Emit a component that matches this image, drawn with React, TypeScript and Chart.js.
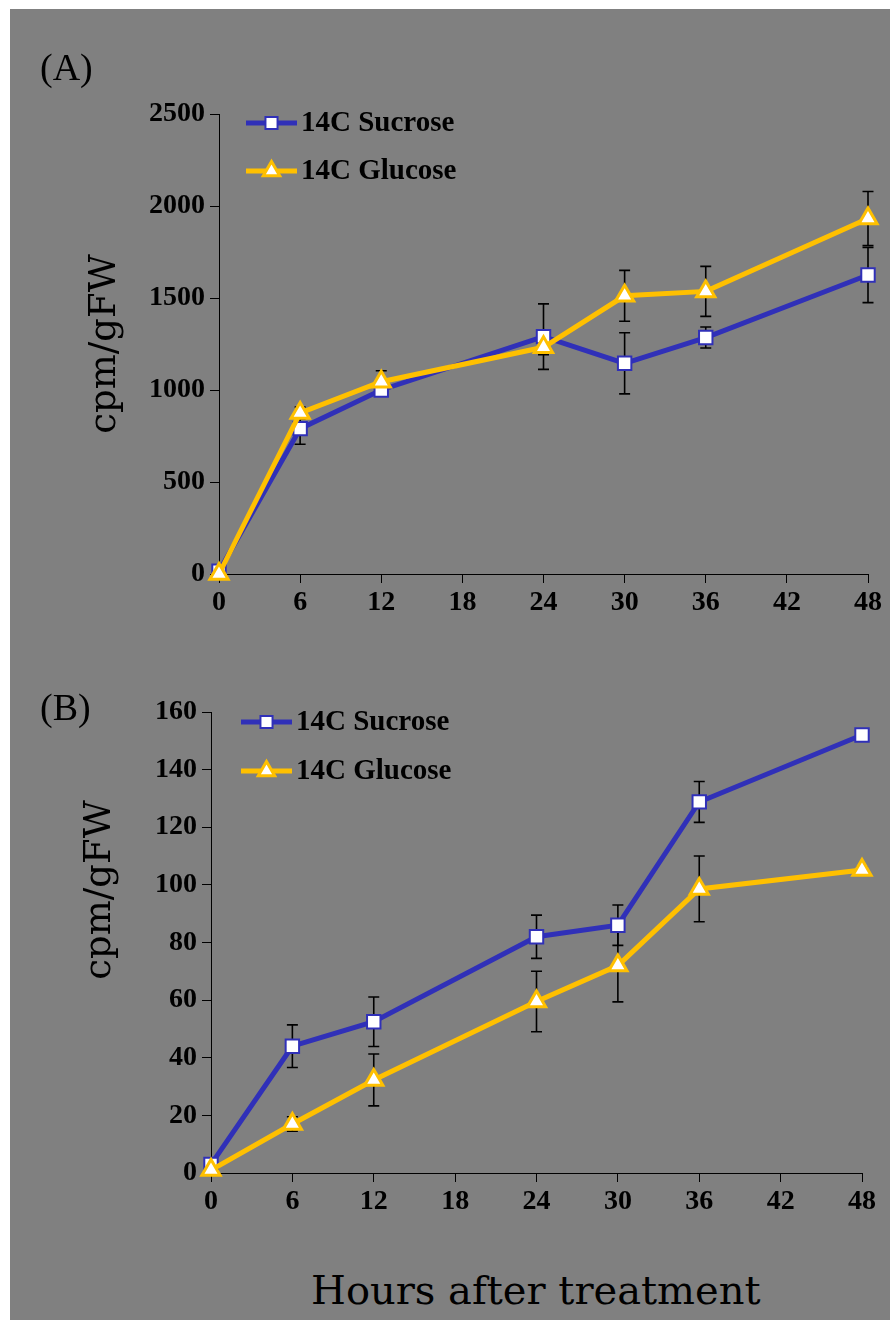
import React, { useEffect, useRef } from "react";
import { Chart, registerables } from "chart.js";
Chart.register(...registerables);

// ---- data ----
const hours = [0, 6, 12, 24, 30, 36, 48];
const xTicks = [0, 6, 12, 18, 24, 30, 36, 42, 48];
const seriesNames = ["14C Sucrose", "14C Glucose"];

const sucroseA = [15, 790, 1000, 1290, 1145, 1285, 1625];
const sucroseAErr = [0, 85, 30, 178, 166, 57, 150];
const glucoseA = [0, 875, 1045, 1232, 1512, 1536, 1932];
const glucoseAErr = [0, 33, 60, 40, 138, 136, 147];
const yTicksA = [0, 500, 1000, 1500, 2000, 2500];

const sucroseB = [3, 44, 52.5, 82, 86, 128.8, 152];
const sucroseBErr = [0, 7.4, 8.6, 7.5, 7, 7.1, 1];
const glucoseB = [1, 17, 32.3, 59.5, 72, 98.6, 105.2];
const glucoseBErr = [0, 2.5, 9, 10.5, 12.6, 11.4, 1];
const yTicksB = [0, 20, 40, 60, 80, 100, 120, 140, 160];

const yTitle = "cpm/gFW";
const xTitle = "Hours after treatment";
const panelLabels = ["(A)", "(B)"];

// ---- styles ----
const BLUE = "#3030B8";
const GOLD = "#FFC000";
const BG = "#808080";
const TICK_FONT = { family: "'Liberation Serif', 'Times New Roman', serif", size: 28, weight: "bold" as const };

function drawMarker(ctx: CanvasRenderingContext2D, style: string, x: number, y: number, r: number, fill: string, stroke: string, bw: number) {
  ctx.save();
  ctx.beginPath();
  if (style === "rect") {
    const s = Math.SQRT1_2 * r;
    ctx.rect(x - s, y - s, 2 * s, 2 * s);
  } else {
    let rad = 0;
    ctx.moveTo(x + Math.sin(rad) * r, y - Math.cos(rad) * r);
    rad += (2 * Math.PI) / 3;
    ctx.lineTo(x + Math.sin(rad) * r, y - Math.cos(rad) * r);
    rad += (2 * Math.PI) / 3;
    ctx.lineTo(x + Math.sin(rad) * r, y - Math.cos(rad) * r);
    ctx.closePath();
  }
  ctx.fillStyle = fill;
  ctx.fill();
  ctx.lineWidth = bw;
  ctx.strokeStyle = stroke;
  ctx.stroke();
  ctx.restore();
}

const errorBarPlugin = {
  id: "errorBars",
  beforeDatasetsDraw(chart: any) {
    const ctx = chart.ctx;
    const yScale = chart.scales.y;
    ctx.save();
    ctx.strokeStyle = "#000";
    ctx.lineWidth = 1.6;
    chart.data.datasets.forEach((ds: any, i: number) => {
      const meta = chart.getDatasetMeta(i);
      (ds.errors || []).forEach((e: number, j: number) => {
        if (!e) return;
        const pt = meta.data[j];
        const v = ds.data[j].y;
        const x = pt.x;
        const yt = yScale.getPixelForValue(v + e);
        const yb = yScale.getPixelForValue(v - e);
        ctx.beginPath();
        ctx.moveTo(x, yt);
        ctx.lineTo(x, yb);
        ctx.moveTo(x - 5.5, yt);
        ctx.lineTo(x + 5.5, yt);
        ctx.moveTo(x - 5.5, yb);
        ctx.lineTo(x + 5.5, yb);
        ctx.stroke();
      });
    });
    ctx.restore();
  },
};

const legendPlugin = {
  id: "lineLegend",
  afterDraw(chart: any, _args: any, opts: any) {
    const ctx = chart.ctx;
    const items = opts.items || [];
    chart.data.datasets.forEach((ds: any, i: number) => {
      const it = items[i];
      if (!it) return;
      ctx.save();
      ctx.strokeStyle = ds.borderColor;
      ctx.lineWidth = ds.borderWidth;
      ctx.beginPath();
      ctx.moveTo(it.x, it.y);
      ctx.lineTo(it.x + opts.lineLen, it.y);
      ctx.stroke();
      drawMarker(ctx, ds.pointStyle, it.x + opts.lineLen / 2, it.y, ds.pointRadius * 0.9, ds.pointBackgroundColor, ds.pointBorderColor, ds.pointBorderWidth);
      ctx.fillStyle = "#000";
      ctx.font = `bold ${opts.fontSize}px 'Liberation Serif', 'Times New Roman', serif`;
      ctx.textBaseline = "middle";
      ctx.textAlign = "left";
      ctx.fillText(ds.label, it.x + opts.lineLen + 4, it.y + 1);
      ctx.restore();
    });
  },
};

const yTitlePlugin = {
  id: "yTitleText",
  afterDraw(chart: any, _args: any, opts: any) {
    const ctx = chart.ctx;
    ctx.save();
    ctx.translate(opts.x, opts.y);
    ctx.rotate(-Math.PI / 2);
    ctx.fillStyle = "#000";
    ctx.font = `${opts.fontSize}px 'DejaVu Serif', serif`;
    ctx.textAlign = "center";
    ctx.textBaseline = "middle";
    ctx.fillText(opts.text, 0, 0);
    ctx.restore();
  },
};

function makeConfig(p: {
  suc: number[]; sucErr: number[]; glu: number[]; gluErr: number[]; yTicks: number[];
  yMax: number; yAxisW: number; pad: any; legendItems: any; titleX: number; titleY: number;
}) {
  const toPts = (arr: number[]) => hours.map((h, i) => ({ x: h, y: arr[i] }));
  return {
    type: "line" as const,
    data: {
      datasets: [
        {
          label: seriesNames[0],
          data: toPts(p.suc),
          errors: p.sucErr,
          borderColor: BLUE,
          borderWidth: 5,
          pointStyle: "rect",
          pointRadius: 9.5,
          pointBackgroundColor: "#fff",
          pointBorderColor: BLUE,
          pointBorderWidth: 2,
          tension: 0,
          clip: false,
          order: 2,
        },
        {
          label: seriesNames[1],
          data: toPts(p.glu),
          errors: p.gluErr,
          borderColor: GOLD,
          borderWidth: 5,
          pointStyle: "triangle",
          pointRadius: 10.5,
          pointBackgroundColor: "#fff",
          pointBorderColor: GOLD,
          pointBorderWidth: 3,
          tension: 0,
          clip: false,
          order: 1,
        },
      ],
    },
    options: {
      responsive: false,
      animation: false as const,
      devicePixelRatio: 1,
      layout: { padding: p.pad },
      plugins: {
        legend: { display: false },
        tooltip: { enabled: false },
        lineLegend: { items: p.legendItems, lineLen: 51, fontSize: 29 },
        yTitleText: { text: yTitle, x: p.titleX, y: p.titleY, fontSize: 37 },
      },
      scales: {
        x: {
          type: "linear" as const,
          min: 0,
          max: 48,
          afterBuildTicks: (s: any) => { s.ticks = xTicks.map((v) => ({ value: v })); },
          afterFit: (s: any) => { s.height = 50; },
          ticks: { font: TICK_FONT, color: "#000", padding: 3, maxRotation: 0, autoSkip: false, callback: (v: any) => String(v) },
          grid: { display: true, drawOnChartArea: false, drawTicks: true, tickLength: 9, color: "#000", lineWidth: 1 },
          border: { display: true, color: "#000", width: 1 },
        },
        y: {
          type: "linear" as const,
          min: 0,
          max: p.yMax,
          afterBuildTicks: (s: any) => { s.ticks = p.yTicks.map((v) => ({ value: v })); },
          afterFit: (s: any) => { s.width = p.yAxisW; },
          ticks: { font: TICK_FONT, color: "#000", padding: 5, autoSkip: false, callback: (v: any) => String(v) },
          grid: { display: true, drawOnChartArea: false, drawTicks: true, tickLength: 9, color: "#000", lineWidth: 1 },
          border: { display: true, color: "#000", width: 1 },
        },
      },
    },
    plugins: [errorBarPlugin, legendPlugin, yTitlePlugin],
  };
}

function Panel(props: { cfg: any; left: number; top: number; width: number; height: number }) {
  const ref = useRef<HTMLCanvasElement>(null);
  useEffect(() => {
    if (!ref.current) return;
    const chart = new Chart(ref.current, props.cfg);
    return () => chart.destroy();
  }, []);
  return (
    <canvas
      ref={ref}
      width={props.width}
      height={props.height}
      style={{ position: "absolute", left: props.left, top: props.top, width: props.width, height: props.height }}
    />
  );
}

export default function App() {
  const cfgA = makeConfig({
    suc: sucroseA, sucErr: sucroseAErr, glu: glucoseA, gluErr: glucoseAErr, yTicks: yTicksA,
    yMax: 2500, yAxisW: 209, pad: { left: 0, top: 105, right: 22, bottom: 5 },
    legendItems: [{ x: 236, y: 114 }, { x: 236, y: 162 }], titleX: 95, titleY: 335,
  });
  const cfgB = makeConfig({
    suc: sucroseB, sucErr: sucroseBErr, glu: glucoseB, gluErr: glucoseBErr, yTicks: yTicksB,
    yMax: 160, yAxisW: 201, pad: { left: 0, top: 72, right: 28, bottom: 7 },
    legendItems: [{ x: 231, y: 82 }, { x: 231, y: 131 }], titleX: 90, titleY: 250,
  });
  return (
    <div style={{ position: "absolute", left: 0, top: 0, width: 890, height: 1320, background: "#fff", overflow: "hidden" }}>
      <div style={{ position: "absolute", left: 10, top: 9, width: 880, height: 1311, background: BG }} />
      <Panel cfg={cfgA} left={10} top={9} width={880} height={620} />
      <Panel cfg={cfgB} left={10} top={640} width={880} height={590} />
      <div style={{ position: "absolute", left: 40, top: 48, font: "38px 'Liberation Serif', serif", lineHeight: 1, color: "#000" }}>{panelLabels[0]}</div>
      <div style={{ position: "absolute", left: 40, top: 688, font: "38px 'Liberation Serif', serif", lineHeight: 1, color: "#000" }}>{panelLabels[1]}</div>
      <div style={{ position: "absolute", left: 311, top: 1270, font: "40px 'DejaVu Serif', serif", lineHeight: 1, color: "#000", whiteSpace: "nowrap" }}>{xTitle}</div>
    </div>
  );
}
